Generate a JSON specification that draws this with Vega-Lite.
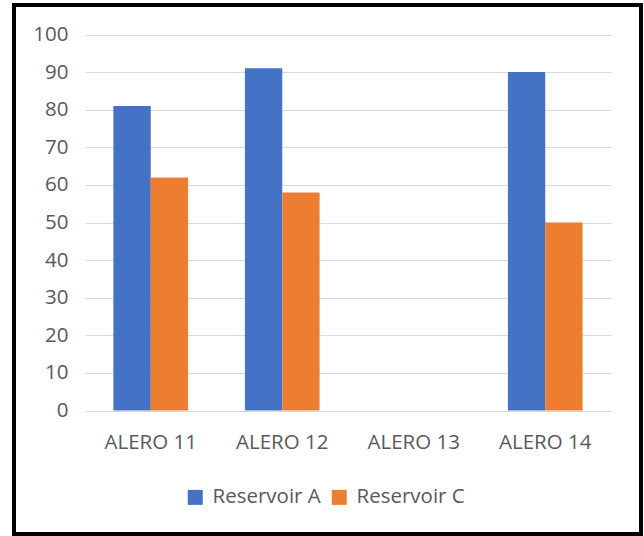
{
  "$schema": "https://vega.github.io/schema/vega-lite/v6.json",
  "width": 627,
  "height": 529,
  "autosize": {"type": "none"},
  "padding": {"left": 14, "top": 5, "right": 3, "bottom": 2},
  "background": "white",
  "view": {"stroke": "#000000", "strokeWidth": 4, "fill": "white"},
  "data": {
    "values": [
      {"well": "ALERO 11", "reservoir": "Reservoir A", "value": 81},
      {"well": "ALERO 11", "reservoir": "Reservoir C", "value": 62},
      {"well": "ALERO 12", "reservoir": "Reservoir A", "value": 91},
      {"well": "ALERO 12", "reservoir": "Reservoir C", "value": 58},
      {"well": "ALERO 13", "reservoir": "Reservoir A", "value": null},
      {"well": "ALERO 13", "reservoir": "Reservoir C", "value": null},
      {"well": "ALERO 14", "reservoir": "Reservoir A", "value": 90},
      {"well": "ALERO 14", "reservoir": "Reservoir C", "value": 50}
    ]
  },
  "mark": {"type": "bar"},
  "encoding": {
    "x": {
      "field": "well",
      "type": "nominal",
      "sort": null,
      "scale": {
        "domain": ["ALERO 11", "ALERO 12", "ALERO 13", "ALERO 14"],
        "range": [71, 597],
        "paddingInner": 0.432,
        "paddingOuter": 0.216
      },
      "axis": {
        "title": null,
        "orient": "bottom",
        "offset": -123.5,
        "domain": false,
        "ticks": false,
        "tickSize": 0,
        "grid": false,
        "labelAngle": 0,
        "labelPadding": 22,
        "labelFont": "Open Sans",
        "labelFontSize": 20.5,
        "labelColor": "#595959"
      }
    },
    "xOffset": {
      "field": "reservoir",
      "type": "nominal",
      "scale": {"paddingInner": 0, "paddingOuter": 0}
    },
    "y": {
      "field": "value",
      "type": "quantitative",
      "scale": {"domain": [0, 100], "nice": false, "range": [405.5, 29.5]},
      "axis": {
        "title": null,
        "offset": -71,
        "values": [0, 10, 20, 30, 40, 50, 60, 70, 80, 90, 100],
        "domain": false,
        "ticks": false,
        "tickSize": 0,
        "grid": true,
        "gridColor": "#d9d9d9",
        "gridWidth": 1.2,
        "labelPadding": 17,
        "labelFont": "Open Sans",
        "labelFontSize": 20.5,
        "labelColor": "#595959"
      }
    },
    "color": {
      "field": "reservoir",
      "type": "nominal",
      "scale": {
        "domain": ["Reservoir A", "Reservoir C"],
        "range": ["#4472C4", "#ED7D31"]
      },
      "legend": {
        "title": null,
        "orient": "none",
        "direction": "horizontal",
        "legendX": 171,
        "legendY": 482,
        "padding": 0,
        "symbolType": "square",
        "symbolSize": 225,
        "symbolStrokeWidth": 0,
        "symbolOpacity": 1,
        "labelOffset": 7,
        "columnPadding": 8,
        "labelFont": "Open Sans",
        "labelFontSize": 20.5,
        "labelColor": "#595959"
      }
    }
  }
}
